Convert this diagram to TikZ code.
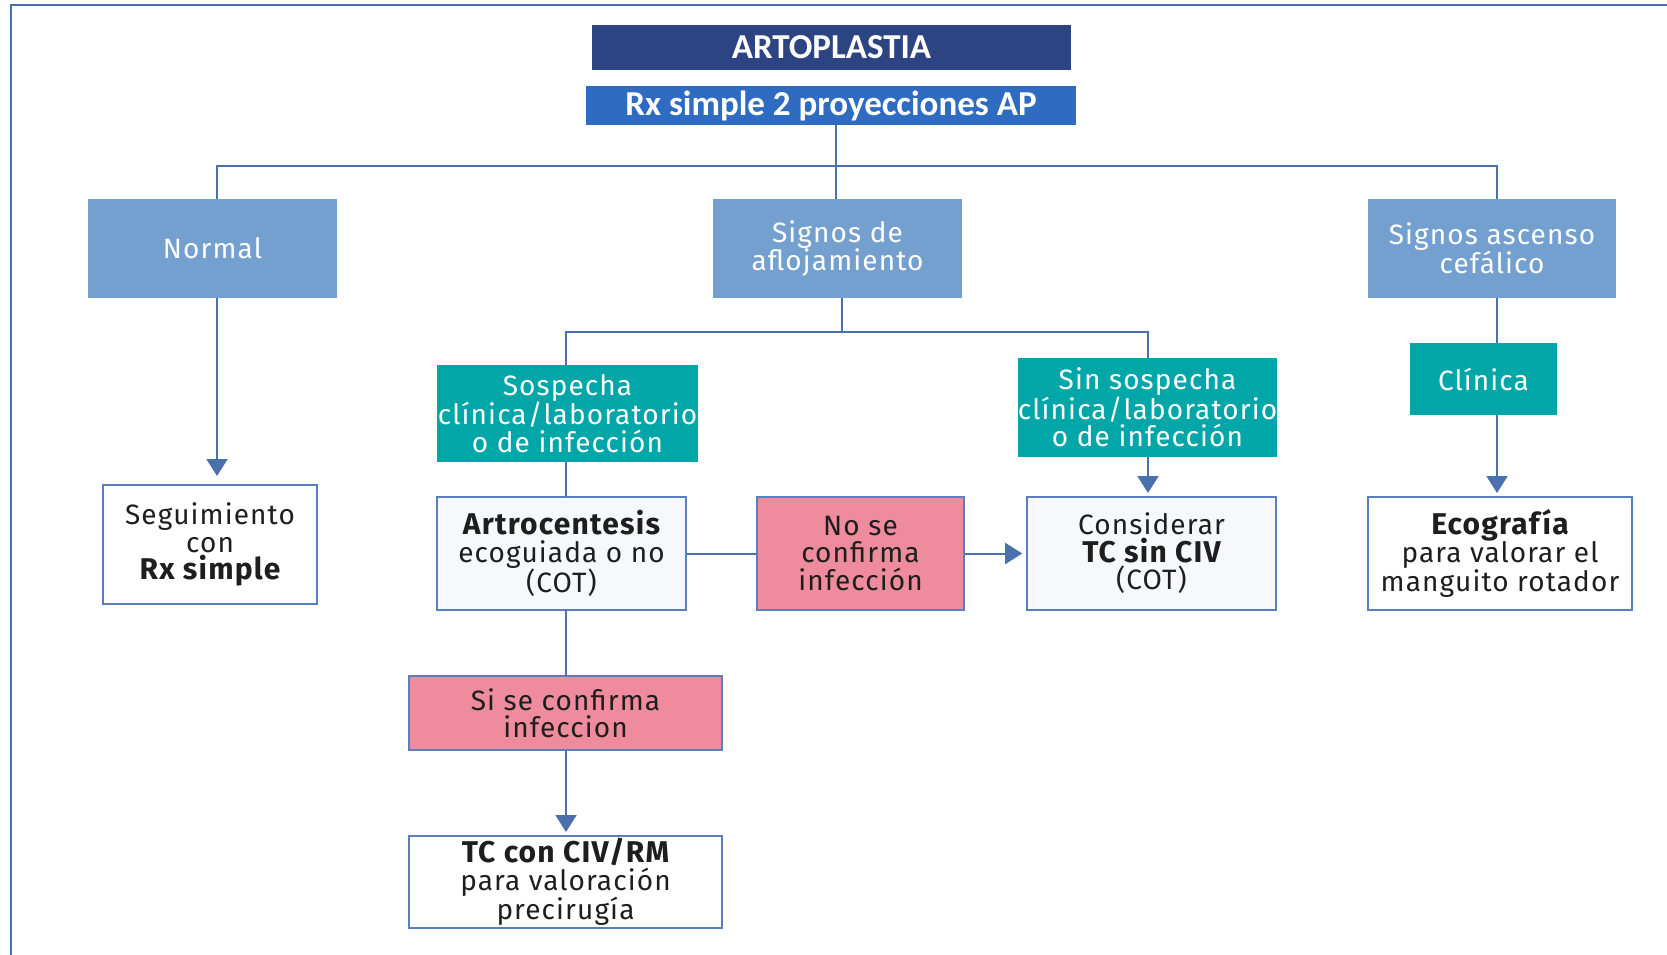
\documentclass[tikz,border=0pt]{standalone}
\usepackage{fontspec}
\setmainfont{Fira Sans}[LetterSpace=4]
\newfontfamily\headfont{Carlito}
\usetikzlibrary{arrows.meta}
\definecolor{navy}{HTML}{2C4482}
\definecolor{rxblue}{HTML}{2F6BC1}
\definecolor{softblue}{HTML}{74A0CF}
\definecolor{tealbox}{HTML}{00A6A8}
\definecolor{pinkbox}{HTML}{EE8B9C}
\definecolor{linec}{HTML}{4A70AE}
\definecolor{edgec}{HTML}{5A7FBE}
\definecolor{palefill}{HTML}{F6F8FB}
\definecolor{txt}{HTML}{1E1E1E}
% bold, slightly larger first lines
\newcommand{\keyline}[1]{{\fontsize{30}{27.5}\selectfont\bfseries #1}}
\tikzset{
  box/.style={inner sep=0pt, align=center, font=\fontsize{28}{27.5}\selectfont},
  head/.style={box, text=white, font=\headfont\bfseries\fontsize{35}{36}\selectfont},
  bluebox/.style={box, fill=softblue, text=white},
  tealnode/.style={box, fill=tealbox, text=white},
  whitebox/.style={box, fill=white, draw=edgec, line width=1.6pt, text=txt},
  palebox/.style={box, fill=palefill, draw=edgec, line width=1.6pt, text=txt},
  pinknode/.style={box, fill=pinkbox, draw=edgec, line width=1.6pt, text=txt},
  conn/.style={draw=linec, line width=2pt},
  arr/.style={conn, -{Triangle[width=21pt,length=17pt]}, shorten >=4pt},
}
\begin{document}
\begin{tikzpicture}[x=1pt, y=-1pt]
\useasboundingbox (0,0) rectangle (1667,955);
% outer frame (top and left edges)
\draw[linec, line width=1.5pt] (11,955) -- (11,5) -- (1667,5);

% top of the chart
\node[head, fill=navy, minimum width=479pt, minimum height=45pt] (art) at (831.5,47.5) {ARTOPLASTIA};
\node[head, fill=rxblue, minimum width=490pt, minimum height=39pt] (rx) at (831,105.5) {Rx simple 2 proyecciones AP};

% first level
\node[bluebox, minimum width=249pt, minimum height=99pt] (normal) at (212.5,248.5) {Normal};
\node[bluebox, minimum width=249pt, minimum height=99pt] (aflo) at (837.5,248.5) {Signos de\\aflojamiento};
\node[bluebox, minimum width=248pt, minimum height=99pt] (asc) at (1492,248.5) {Signos ascenso\\cefálico};

% second level
\node[whitebox, minimum width=214pt, minimum height=119pt] (seg) at (210,544.5) {Seguimiento\\con\\\keyline{Rx simple}};
\node[tealnode, minimum width=261pt, minimum height=97pt] (sosp) at (567.5,413.5) {Sospecha\\clínica/laboratorio\\o de infección};
\node[tealnode, minimum width=255pt, minimum height=99pt] (sin) at (1147.5,407.5) {Sin sospecha\\clínica/laboratorio\\o de infección};
\node[tealnode, minimum width=147pt, minimum height=72pt] (clin) at (1483.5,379) {Clínica};

% third level
\node[palebox, minimum width=249pt, minimum height=113pt] (artro) at (561.5,553.5) {\keyline{Artrocentesis}\\ecoguiada o no\\(COT)};
\node[pinknode, minimum width=207pt, minimum height=113pt] (noconf) at (860.5,553.5) {No se\\confirma\\infección};
\node[palebox, minimum width=249pt, minimum height=113pt] (cons) at (1151.5,553.5) {Considerar\\\keyline{TC sin CIV}\\(COT)};
\node[whitebox, minimum width=264pt, minimum height=113pt] (eco) at (1500,553.5) {\keyline{Ecografía}\\para valorar el\\manguito rotador};

% bottom branch
\node[pinknode, minimum width=313pt, minimum height=74pt] (sicon) at (565.5,713) {Si se confirma\\infeccion};
\node[whitebox, minimum width=313pt, minimum height=92pt] (tc) at (565.5,882) {\keyline{TC con CIV/RM}\\para valoración\\precirugía};

% connectors
\coordinate (barA) at (836,166);
\coordinate (barB) at (842,332);
\draw[conn] (rx.south -| barA) -- (barA);
\draw[conn] (217,199) |- (barA) -| (1497,199);
\draw[conn] (barA) -- (barA |- aflo.north);
\draw[arr, shorten >=9pt] (217,298) -- (217,485);
\draw[conn] (barB |- aflo.south) -- (barB);
\draw[conn] (566,365) |- (barB) -| (1148,358);
\draw[conn] (566,462) -- (566,497);
\draw[arr] (1148,457) -- (1148,497);
\draw[conn] (1497,298) -- (1497,343);
\draw[arr] (1497,415) -- (1497,497);
\draw[conn] (artro.east) -- (noconf.west);
\draw[arr] (noconf.east) -- (cons.west);
\draw[conn] (566,610) -- (566,676);
\draw[arr] (566,750) -- (566,836);
\end{tikzpicture}
\end{document}
